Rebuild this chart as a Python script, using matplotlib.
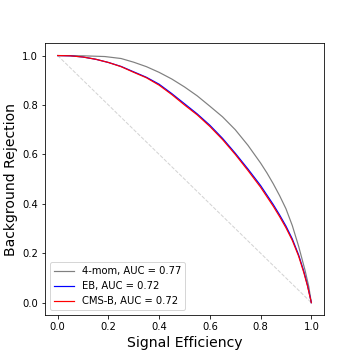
import matplotlib
matplotlib.use("Agg")
import matplotlib.pyplot as plt

# Data
eff_4mom = [0.0, 0.1, 0.186, 0.25, 0.3, 0.35, 0.4, 0.45, 0.5, 0.55, 0.6, 0.65, 0.7,
            0.75, 0.8, 0.825, 0.85, 0.875, 0.9, 0.925, 0.95, 0.975, 0.99, 1.0]
rej_4mom = [1.0, 0.999, 0.996, 0.988, 0.973, 0.955, 0.932, 0.905, 0.873, 0.837, 0.795,
            0.752, 0.70, 0.637, 0.565, 0.525, 0.481, 0.433, 0.38, 0.312, 0.228, 0.132, 0.065, 0.0]

eff_eb = [0.0, 0.05, 0.1, 0.15, 0.2, 0.25, 0.3, 0.35, 0.4, 0.45, 0.5, 0.55, 0.6, 0.65,
          0.7, 0.75, 0.8, 0.85, 0.875, 0.9, 0.925, 0.95, 0.97, 0.985, 1.0]
rej_eb = [1.0, 0.999, 0.994, 0.985, 0.972, 0.956, 0.934, 0.912, 0.884, 0.846, 0.805, 0.764,
          0.718, 0.665, 0.605, 0.541, 0.474, 0.397, 0.355, 0.31, 0.258, 0.193, 0.128, 0.07, 0.0]

eff_cms = [0.0, 0.05, 0.1, 0.15, 0.2, 0.25, 0.3, 0.35, 0.4, 0.45, 0.5, 0.55, 0.6, 0.65,
           0.7, 0.75, 0.8, 0.85, 0.875, 0.9, 0.925, 0.95, 0.97, 0.985, 1.0]
rej_cms = [1.0, 0.999, 0.994, 0.985, 0.972, 0.955, 0.932, 0.91, 0.88, 0.842, 0.80, 0.76,
           0.713, 0.66, 0.60, 0.535, 0.467, 0.39, 0.348, 0.303, 0.252, 0.188, 0.123, 0.067, 0.0]

labels = ["4-mom, AUC = 0.77", "EB, AUC = 0.72", "CMS-B, AUC = 0.72"]
diag = [0.0, 1.0]

fig = plt.figure(figsize=(5, 5), dpi=72)
ax = fig.add_subplot(111)
fig.subplots_adjust(left=0.125, right=0.9, bottom=0.125, top=0.88)

ax.plot(diag, diag[::-1], linestyle="--", color="lightgray", linewidth=1)
ax.plot(eff_4mom, rej_4mom, color="gray", linewidth=1.2, label=labels[0])
ax.plot(eff_eb, rej_eb, color="blue", linewidth=1.2, label=labels[1])
ax.plot(eff_cms, rej_cms, color="red", linewidth=1.2, label=labels[2])

ax.set_xlabel("Signal Efficiency", fontsize=14)
ax.set_ylabel("Background Rejection", fontsize=14)
ax.legend(loc="lower left", fontsize=10)

fig.savefig("out.png", dpi=72)
